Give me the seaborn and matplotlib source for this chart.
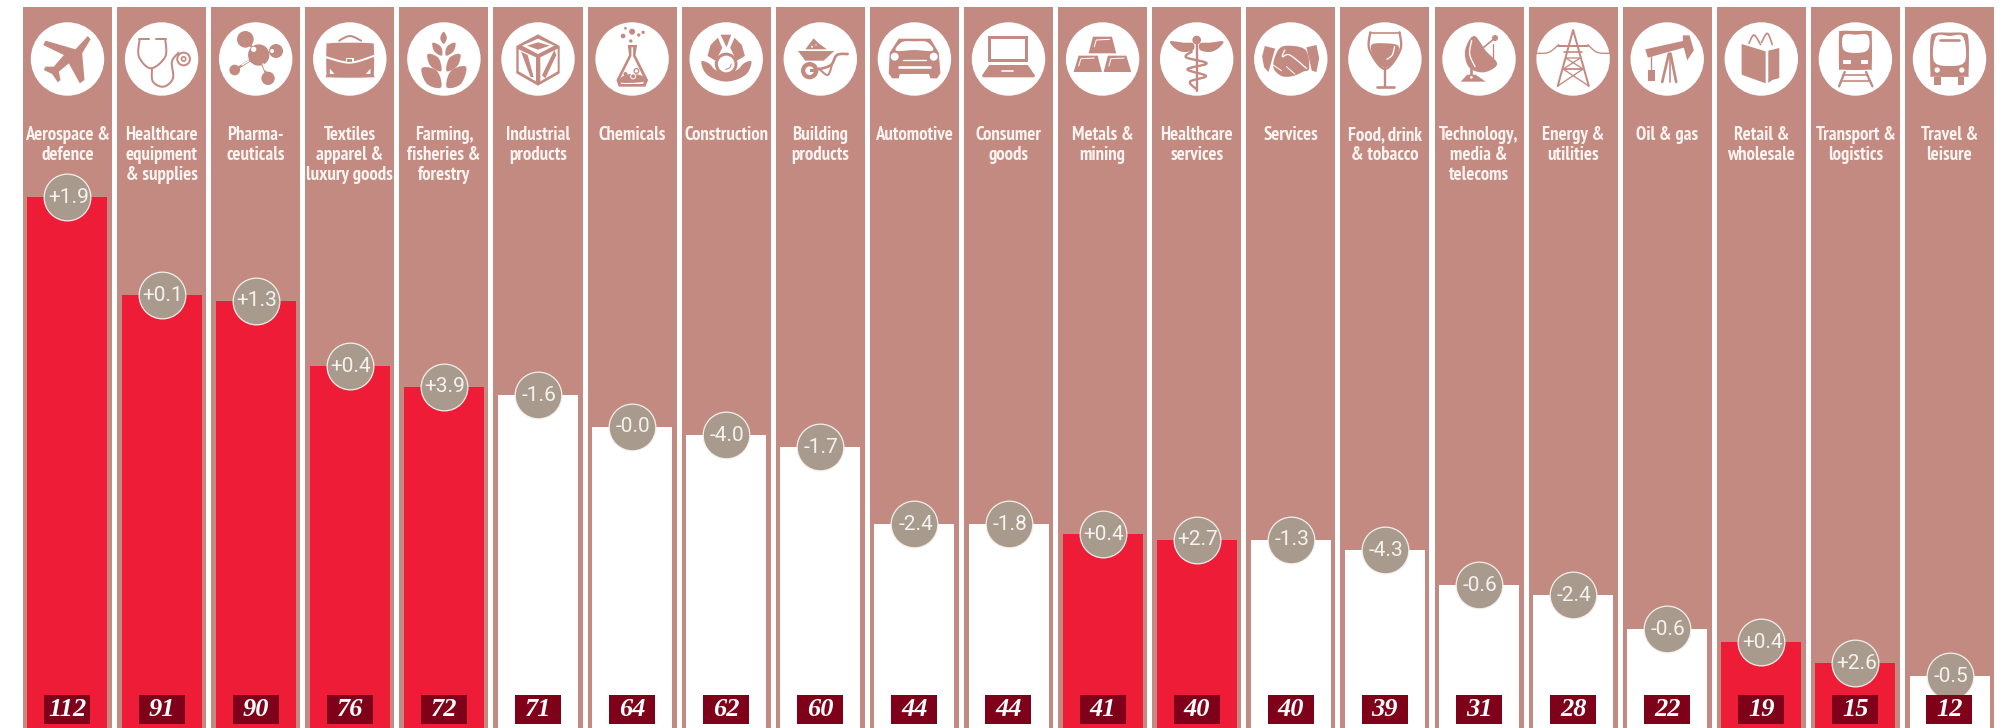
import numpy as np
import pandas as pd
import seaborn as sns
import matplotlib.pyplot as plt
from matplotlib import font_manager
from matplotlib.patches import Circle, Polygon, Rectangle

sectors = ["Aerospace &\ndefence", "Healthcare\nequipment\n& supplies", "Pharma-\nceuticals",
           "Textiles\napparel &\nluxury goods", "Farming,\nfisheries &\nforestry", "Industrial\nproducts",
           "Chemicals", "Construction", "Building\nproducts", "Automotive", "Consumer\ngoods",
           "Metals &\nmining", "Healthcare\nservices", "Services", "Food, drink\n& tobacco",
           "Technology,\nmedia &\ntelecoms", "Energy &\nutilities", "Oil & gas", "Retail &\nwholesale",
           "Transport &\nlogistics", "Travel &\nleisure"]
values = [112, 91, 90, 76, 72, 71, 64, 62, 60, 44, 44, 41, 40, 40, 39, 31, 28, 22, 19, 15, 12]
# bar lengths as measured, the printed numbers above are rounded and the art is not exact
bar_heights = [112, 91.5, 90.3, 76.7, 72.4, 70.6, 64, 62.3, 59.8, 43.7, 43.7, 41.6, 40.4, 40.4, 38.3, 31, 28.9,
               21.8, 19.1, 14.7, 12]
changes = [1.9, 0.1, 1.3, 0.4, 3.9, -1.6, -0.0, -4.0, -1.7, -2.4, -1.8, 0.4, 2.7, -1.3, -4.3, -0.6, -2.4,
           -0.6, 0.4, 2.6, -0.5]

PANEL = "#c38a81"
RED = "#ef1c38"
DARK = "#7f0019"
BUBBLE = "#a89a8d"
W = "white"

# pixel layout of the reference
STEP = 94.1
FIRST = 67.5
PX_PER_UNIT = 4.79
BASE = 733.5


def centre(i):
    return FIRST + STEP * i


# each icon: centre in zoom coords + shapes (p polygon, l line, s smooth line, sp smooth polygon, c circle)
ICONS = [
    (201, 177, [("p", [(262, 108), (270, 118), (245, 160), (252, 240), (238, 250), (205, 190), (175, 215), (180, 240), (172, 247), (155, 222), (130, 210), (135, 200), (160, 200), (190, 165), (128, 135), (135, 122), (225, 148)], PANEL)]),
    (484, 177, [("s", [(418, 118), (416, 170), (452, 205), (495, 170), (495, 118)], 6, PANEL),
                ("l", [(415, 116), (445, 116)], 6, PANEL), ("l", [(468, 116), (497, 116)], 6, PANEL),
                ("s", [(455, 205), (458, 245), (490, 260), (518, 235), (515, 185), (535, 158)], 6, PANEL),
                ("c", 550, 177, 22, PANEL), ("c", 550, 177, 16, W), ("c", 550, 177, 9, PANEL), ("c", 550, 177, 4, W)]),
    (766, 177, [("l", [(775, 165), (703, 210)], 7, PANEL), ("l", [(775, 165), (803, 235)], 7, PANEL), ("l", [(735, 118), (775, 165)], 7, PANEL),
                ("c", 735, 118, 25, PANEL), ("c", 775, 165, 32, PANEL), ("c", 827, 153, 21, PANEL),
                ("c", 803, 235, 20, PANEL), ("c", 703, 210, 16, PANEL), ("c", 760, 148, 8, W), ("c", 815, 153, 6, W),
                ("l", [(788, 192), (795, 210)], 5, W), ("l", [(725, 195), (745, 183)], 4, W)]),
    (1048, 177, [("sp", [(985, 130), (1048, 128), (1112, 130), (1120, 140), (1120, 222), (1112, 232), (985, 232), (978, 222), (978, 140)], PANEL),
                 ("s", [(978, 172), (1048, 188), (1120, 168)], 6, W), ("p", [(1036, 173), (1060, 173), (1060, 189), (1036, 189)], W),
                 ("p", [(1040, 177), (1056, 177), (1056, 185), (1040, 185)], PANEL),
                 ("s", [(1016, 122), (1048, 108), (1082, 122)], 6, PANEL),
                 ("p", [(988, 206), (1002, 222), (988, 222)], W), ("p", [(1110, 206), (1096, 222), (1110, 222)], W)]),
    (1331, 175, [("sp", [(1330, 93), (1340, 112), (1330, 130), (1320, 112)], PANEL),
                 ("sp", [(1297, 126), (1322, 138), (1325, 165), (1302, 152)], PANEL), ("sp", [(1365, 126), (1340, 138), (1337, 165), (1360, 152)], PANEL),
                 ("sp", [(1282, 160), (1315, 172), (1323, 212), (1290, 195)], PANEL), ("sp", [(1380, 160), (1347, 172), (1339, 212), (1372, 195)], PANEL),
                 ("sp", [(1264, 202), (1310, 210), (1323, 260), (1280, 250)], PANEL), ("sp", [(1398, 198), (1352, 210), (1339, 260), (1382, 250)], PANEL)]),
    (143, 177, [("p", [(143, 103), (208, 138), (208, 220), (143, 257), (78, 220), (78, 138)], PANEL),
                ("p", [(95, 137), (143, 116), (192, 137), (143, 162)], W), ("p", [(110, 137), (143, 127), (178, 137), (143, 149)], PANEL),
                ("p", [(85, 148), (137, 172), (137, 244), (85, 214)], W), ("p", [(150, 172), (202, 146), (202, 214), (150, 244)], W),
                ("p", [(92, 155), (112, 165), (130, 232), (120, 230)], PANEL), ("p", [(155, 226), (192, 150), (198, 165), (165, 235)], PANEL)]),
    (425, 177, [("p", [(412, 135), (440, 135), (435, 165), (473, 240), (465, 260), (385, 260), (378, 240), (416, 165)], PANEL),
                ("p", [(423, 142), (428, 142), (428, 168), (462, 238), (458, 252), (392, 252), (388, 238), (423, 168)], W),
                ("sp", [(392, 232), (420, 222), (457, 228), (462, 245), (390, 248)], PANEL),
                ("c", 438, 213, 9, PANEL), ("c", 438, 213, 5, W), ("c", 405, 222, 6, PANEL), ("c", 428, 229, 9, W), ("c", 428, 229, 6, PANEL),
                ("c", 425, 95, 9, PANEL), ("c", 398, 108, 7, PANEL), ("c", 445, 105, 5, PANEL), ("c", 458, 97, 5, PANEL), ("c", 405, 85, 4, PANEL), ("c", 421, 123, 5, PANEL)]),
    (707, 177, [("p", [(651, 168), (660, 135), (682, 113), (695, 143), (683, 168), (675, 182)], PANEL),
                ("p", [(763, 168), (754, 135), (732, 113), (719, 143), (731, 168), (739, 182)], PANEL),
                ("p", [(690, 104), (722, 104), (708, 142)], PANEL),
                ("sp", [(632, 185), (655, 190), (680, 212), (735, 212), (760, 190), (783, 185), (765, 225), (707, 245), (650, 225)], PANEL),
                ("c", 707, 192, 34, PANEL), ("c", 707, 192, 25, W), ("s", [(705, 208), (718, 203), (722, 192)], 3, PANEL)]),
    (990, 177, [("p", [(945, 148), (970, 115), (985, 130), (1010, 148)], PANEL), ("c", 965, 140, 3, W), ("c", 977, 135, 2, W),
                ("p", [(923, 153), (1032, 153), (1000, 182), (945, 182)], PANEL),
                ("s", [(985, 208), (1022, 195), (1040, 165), (1072, 162)], 8, PANEL), ("s", [(985, 205), (1012, 225), (1025, 195)], 6, PANEL),
                ("c", 958, 212, 26, PANEL), ("c", 958, 212, 13, W), ("p", [(958, 207), (975, 207), (975, 217), (958, 217)], PANEL)]),
    (1272, 177, [("p", [(1225, 116), (1320, 116), (1345, 158), (1350, 220), (1340, 235), (1320, 235), (1316, 222), (1228, 222), (1225, 235), (1205, 235), (1195, 220), (1198, 158)], PANEL),
                 ("sp", [(1235, 126), (1272, 124), (1310, 126), (1328, 152), (1272, 150), (1216, 152)], W),
                 ("c", 1213, 170, 12, W), ("c", 1330, 170, 12, W), ("l", [(1238, 179), (1306, 179)], 4, W), ("l", [(1226, 200), (1318, 200)], 8, W)]),
    (0, 0, [("p", [(-60, -69), (60, -69), (60, 8), (-60, 8)], PANEL), ("p", [(-51, -60), (51, -60), (51, -1), (-51, -1)], W),
            ("p", [(-58, 18), (58, 18), (80, 50), (76, 55), (-76, 55), (-80, 50)], PANEL), ("l", [(-20, 37), (14, 37)], 5, W)]),
    (297, 177, [("p", [(268, 110), (325, 110), (338, 160), (255, 160)], PANEL), ("p", [(225, 167), (282, 167), (295, 216), (210, 216)], PANEL), ("p", [(313, 167), (368, 167), (383, 216), (300, 216)], PANEL),
                ("l", [(272, 140), (278, 120), (318, 118)], 3, W), ("l", [(225, 198), (232, 176), (272, 174)], 3, W), ("l", [(316, 198), (322, 176), (362, 174)], 3, W)]),
    (570, 177, [("l", [(570, 125), (570, 272)], 7, PANEL), ("c", 570, 120, 13, PANEL),
                ("sp", [(490, 124), (530, 128), (560, 130), (560, 150), (530, 156), (505, 145)], PANEL), ("sp", [(650, 124), (610, 128), (580, 130), (580, 150), (610, 156), (635, 145)], PANEL),
                ("s", [(555, 155), (538, 172), (600, 190), (542, 208), (598, 228), (550, 245), (570, 268)], 7, PANEL)]),
    (843, 177, [("p", [(765, 138), (796, 146), (776, 216), (763, 202), (757, 170)], PANEL), ("p", [(890, 142), (920, 135), (928, 175), (920, 216), (906, 212)], PANEL),
                ("sp", [(805, 150), (835, 137), (888, 150), (898, 205), (880, 215), (850, 228), (815, 228), (790, 200)], PANEL),
                ("s", [(825, 150), (818, 170), (840, 165), (890, 205)], 4, W), ("l", [(790, 195), (815, 212)], 3, W), ("l", [(830, 200), (855, 222)], 3, W)]),
    (1116, 177, [("s", [(1072, 97), (1070, 150), (1116, 207), (1162, 150), (1160, 97)], 7, PANEL), ("l", [(1072, 98), (1160, 98)], 5, PANEL),
                 ("sp", [(1075, 135), (1116, 130), (1157, 138), (1148, 175), (1116, 203), (1085, 175)], PANEL), ("s", [(1122, 178), (1138, 165), (1145, 140)], 4, W),
                 ("l", [(1116, 205), (1116, 258)], 7, PANEL), ("l", [(1092, 260), (1142, 260)], 8, PANEL)]),
    (1390, 175, [("sp", [(1375, 105), (1410, 150), (1445, 190), (1405, 215), (1360, 200), (1348, 150)], PANEL), ("s", [(1368, 120), (1362, 160), (1378, 198)], 4, W),
                 ("l", [(1392, 150), (1438, 112)], 5, PANEL), ("c", 1438, 112, 9, PANEL), ("l", [(1432, 130), (1432, 175)], 4, PANEL),
                 ("l", [(1365, 200), (1365, 232)], 8, PANEL), ("p", [(1355, 222), (1380, 222), (1410, 243), (1335, 243)], PANEL), ("c", 1367, 230, 4, W)]),
    (218, 175, [("l", [(172, 256), (218, 88), (265, 256)], 6, PANEL), ("l", [(172, 135), (262, 135)], 6, PANEL), ("l", [(190, 153), (245, 153)], 5, PANEL),
                ("l", [(196, 172), (240, 172), (188, 205), (248, 205), (172, 256)], 4, PANEL), ("l", [(196, 172), (248, 205), (188, 205), (265, 256)], 4, PANEL),
                ("s", [(108, 158), (145, 155), (175, 132)], 4, PANEL), ("s", [(262, 132), (290, 155), (327, 158)], 4, PANEL)]),
    (498, 176, [("p", [(432, 147), (545, 122), (545, 105), (565, 105), (578, 150), (558, 180), (548, 142), (440, 172)], PANEL),
                ("l", [(483, 245), (503, 160)], 8, PANEL), ("l", [(525, 245), (508, 160)], 8, PANEL), ("l", [(506, 245), (506, 165)], 5, PANEL),
                ("l", [(448, 165), (448, 210)], 4, PANEL), ("p", [(440, 210), (462, 210), (462, 243), (440, 243)], PANEL)]),
    (782, 175, [("p", [(723, 130), (795, 152), (795, 248), (723, 222)], PANEL), ("p", [(803, 150), (836, 142), (836, 232), (815, 238), (803, 247)], PANEL),
                ("s", [(745, 128), (760, 103), (780, 132)], 5, PANEL), ("s", [(783, 125), (800, 98), (815, 132)], 5, PANEL)]),
    (1064, 176, [("sp", [(1020, 92), (1064, 92), (1108, 92), (1113, 105), (1113, 200), (1105, 208), (1022, 208), (1015, 200), (1015, 105)], PANEL),
                 ("sp", [(1028, 105), (1064, 103), (1102, 105), (1102, 148), (1064, 158), (1028, 148)], W),
                 ("p", [(1028, 180), (1050, 180), (1050, 191), (1028, 191)], W), ("p", [(1080, 180), (1102, 180), (1102, 191), (1080, 191)], W),
                 ("l", [(1032, 215), (1015, 258)], 7, PANEL), ("l", [(1096, 215), (1115, 258)], 7, PANEL), ("l", [(1028, 225), (1100, 225)], 5, PANEL), ("l", [(1022, 243), (1107, 243)], 5, PANEL)]),
    (1347, 175, [("p", [(1302, 228), (1322, 228), (1322, 253), (1302, 253)], PANEL), ("p", [(1372, 228), (1392, 228), (1392, 253), (1372, 253)], PANEL),
                 ("sp", [(1305, 97), (1347, 96), (1390, 97), (1404, 115), (1404, 220), (1396, 228), (1298, 228), (1290, 220), (1290, 115)], PANEL),
                 ("sp", [(1306, 108), (1347, 106), (1388, 108), (1394, 182), (1347, 196), (1300, 182)], W),
                 ("l", [(1318, 119), (1376, 119)], 8, PANEL), ("c", 1310, 208, 8, W), ("c", 1384, 208, 8, W)]),
]


def smooth(pts, closed=False, n=10):
    # catmull-rom through the outline points, icons only
    p = np.array(pts, dtype=float)
    if closed:
        p = np.vstack([p[-1], p, p[0], p[1]])
    else:
        p = np.vstack([p[0], p, p[-1]])
    out = []
    for k in range(1, len(p) - 2):
        for t in np.linspace(0, 1, n, endpoint=False):
            a = 2 * p[k] + (p[k + 1] - p[k - 1]) * t
            b = (2 * p[k - 1] - 5 * p[k] + 4 * p[k + 1] - p[k + 2]) * t ** 2
            c = (3 * p[k] - p[k - 1] - 3 * p[k + 1] + p[k + 2]) * t ** 3
            out.append(0.5 * (a + b + c))
    out.append(p[-2])
    return np.array(out)


def draw_icon(ax, i, icon):
    cx, cy, shapes = icon
    ox, oy = centre(i), 59

    def to_px(pts):
        p = np.array(pts, dtype=float)
        return np.column_stack([ox + (p[:, 0] - cx) / 3, oy + (p[:, 1] - cy) / 3])

    ax.add_patch(Circle((ox, oy), 36.7, fc=W, ec="none", zorder=2))
    for s in shapes:
        if s[0] == "p":
            ax.add_patch(Polygon(to_px(s[1]), fc=s[2], ec="none", zorder=3))
        elif s[0] == "sp":
            ax.add_patch(Polygon(to_px(smooth(s[1], closed=True, n=4)), fc=s[2], ec="none", zorder=3))
        elif s[0] == "c":
            ax.add_patch(Circle(to_px([(s[1], s[2])])[0], s[3] / 3, fc=s[4], ec="none", zorder=3))
        else:
            xy = to_px(smooth(s[1]) if s[0] == "s" else s[1])
            ax.plot(xy[:, 0], xy[:, 1], color=s[3], lw=s[2] / 3 * 0.72, solid_capstyle="round",
                    solid_joinstyle="round", zorder=3)


sns.set_theme(style="white")
names = {f.name for f in font_manager.fontManager.ttflist}
# condensed bold family when the machine has one, otherwise smaller Liberation Sans
CAPTION_FONT, CAPTION_SIZE = "Liberation Sans", 9.8
for fam, size in [("PT Sans Narrow", 13.5), ("Fira Sans Condensed", 11.5), ("Roboto Condensed", 11.8)]:
    if fam in names:
        CAPTION_FONT, CAPTION_SIZE = fam, size
        break

df = pd.DataFrame({"sector": sectors, "value": bar_heights, "change": changes})
df["up"] = df["change"] > 0
df["pos"] = range(len(df))
panel_top = (BASE - 7) / PX_PER_UNIT

fig = plt.figure(figsize=(20.11, 7.28), dpi=100, facecolor="white")
ax = fig.add_axes([0, 0, 1, 1])

sns.barplot(x=df["sector"], y=[panel_top] * len(df), color=PANEL, width=89 / STEP, saturation=1,
            linewidth=0, ax=ax)
sns.barplot(data=df, x="sector", y="value", hue="up", palette={True: RED, False: W}, dodge=False,
            width=80 / STEP, saturation=1, linewidth=0, legend=False, ax=ax)
sns.scatterplot(data=df, x="pos", y="value", s=1130, color=BUBBLE, edgecolor="#f4f0ea", linewidth=0.9,
                zorder=5, legend=False, ax=ax)

ax.set_xlim(-FIRST / STEP, (2011 - FIRST) / STEP)
ax.set_ylim((BASE - 728) / PX_PER_UNIT, BASE / PX_PER_UNIT)
ax.set_axis_off()

for i, c in enumerate(changes):
    ax.text(i + 0.012, bar_heights[i], f"{c:+.1f}", ha="center", va="center", fontsize=15,
            color="#f6f2ed", family=["Roboto", "Liberation Sans"], zorder=6)

# pixel overlay for the icons, captions and value tags
deco = fig.add_axes([0, 0, 1, 1], facecolor="none")
deco.set_xlim(0, 2011)
deco.set_ylim(728, 0)
deco.set_axis_off()

for i, icon in enumerate(ICONS):
    draw_icon(deco, i, icon)
    deco.text(centre(i), 126.5, sectors[i], ha="center", va="top", fontsize=CAPTION_SIZE, fontweight="bold",
              color="#fbf4f0", family=[CAPTION_FONT, "Liberation Sans"], linespacing=1.13, zorder=4)
    deco.add_patch(Rectangle((centre(i) - 23, 695), 46, 29, fc=DARK, ec="none", zorder=4))
    deco.text(centre(i), 710, str(values[i]), ha="center", va="center", fontsize=19, fontweight="bold",
              fontstyle="italic", family=["Liberation Serif", "DejaVu Serif"], color="white", zorder=5)

fig.savefig("out.png", dpi=100)
